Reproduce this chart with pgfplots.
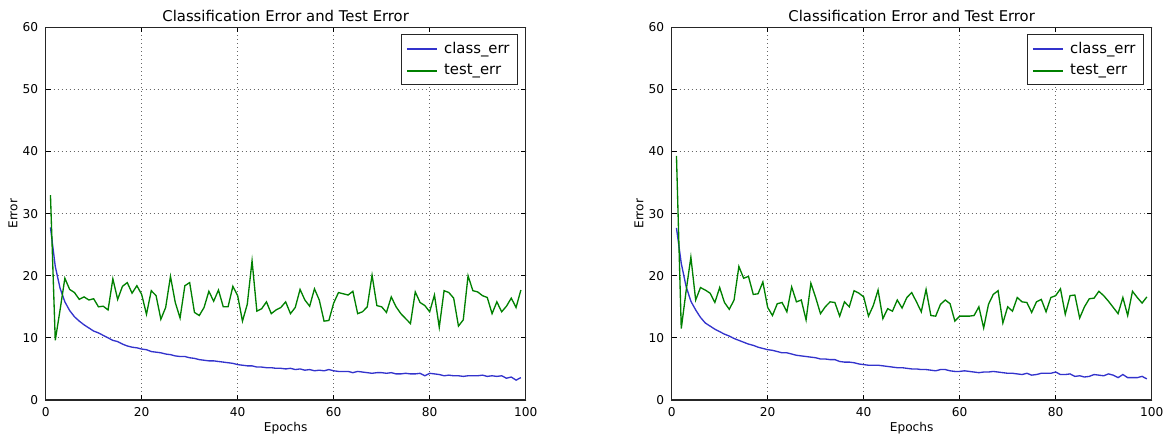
\documentclass[border=0pt]{standalone}
\usepackage{pgfplots}
\pgfplotsset{compat=1.18}
\usepackage{pgfplotstable}
\usepackage{fontspec}
\setmainfont{DejaVu Sans}
\definecolor{mblue}{rgb}{0.2,0.2,0.8}
\definecolor{mgreen}{rgb}{0.0,0.5,0.0}

\pgfplotstableread{
e c t
1 27.8 33.0
2 21.5 9.6
3 18.0 14.5
4 15.8 19.6
5 14.4 17.8
6 13.4 17.3
7 12.7 16.2
8 12.1 16.6
9 11.6 16.1
10 11.1 16.3
11 10.8 15.0
12 10.4 15.1
13 10.0 14.5
14 9.6 19.5
15 9.4 16.2
16 9.0 18.3
17 8.7 18.9
18 8.5 17.2
19 8.4 18.4
20 8.2 17.0
21 8.1 13.8
22 7.8 17.6
23 7.7 16.8
24 7.6 13.0
25 7.4 14.9
26 7.3 19.9
27 7.1 15.7
28 7.0 13.2
29 7.0 18.4
30 6.8 18.9
31 6.7 14.1
32 6.5 13.6
33 6.4 14.9
34 6.3 17.5
35 6.3 15.9
36 6.2 17.7
37 6.1 15.0
38 6.0 15.0
39 5.9 18.3
40 5.7 16.8
41 5.6 12.7
42 5.5 15.4
43 5.5 22.4
44 5.3 14.3
45 5.3 14.7
46 5.2 15.8
47 5.2 13.9
48 5.1 14.5
49 5.1 14.9
50 5.0 15.8
51 5.1 13.9
52 4.9 14.9
53 5.0 17.8
54 4.8 16.1
55 4.9 15.1
56 4.7 17.9
57 4.8 16.1
58 4.7 12.7
59 4.9 12.8
60 4.7 15.6
61 4.6 17.3
62 4.6 17.1
63 4.6 16.9
64 4.4 17.5
65 4.6 13.9
66 4.5 14.2
67 4.4 15.0
68 4.3 20.1
69 4.4 15.2
70 4.4 15.0
71 4.3 14.1
72 4.4 16.6
73 4.2 15.0
74 4.2 13.9
75 4.3 13.1
76 4.2 12.3
77 4.2 17.4
78 4.3 15.7
79 3.9 15.2
80 4.3 14.2
81 4.2 16.9
82 4.1 11.7
83 3.9 17.6
84 4.0 17.3
85 3.9 16.4
86 3.9 11.9
87 3.8 12.9
88 3.9 20.0
89 3.9 17.6
90 3.9 17.4
91 4.0 16.8
92 3.8 16.5
93 3.9 13.9
94 3.8 15.8
95 3.9 14.2
96 3.5 15.1
97 3.7 16.4
98 3.2 14.9
99 3.6 17.7
}\lefttab

\pgfplotstableread{
e c t
1 27.7 39.3
2 22.0 11.5
3 18.3 17.5
4 15.9 23.0
5 14.5 16.1
6 13.3 18.1
7 12.4 17.7
8 11.9 17.2
9 11.4 15.7
10 11.0 18.1
11 10.6 15.7
12 10.3 14.6
13 9.9 16.1
14 9.6 21.5
15 9.3 19.6
16 9.0 19.9
17 8.8 17.0
18 8.5 17.1
19 8.3 19.0
20 8.1 14.9
21 8.0 13.6
22 7.8 15.5
23 7.6 15.7
24 7.6 14.2
25 7.4 18.2
26 7.2 15.8
27 7.1 16.1
28 7.0 12.9
29 6.9 18.8
30 6.8 16.5
31 6.6 13.9
32 6.6 15.0
33 6.5 15.8
34 6.5 15.7
35 6.2 13.5
36 6.1 15.8
37 6.1 15.0
38 6.0 17.6
39 5.8 17.2
40 5.7 16.6
41 5.6 13.5
42 5.6 15.2
43 5.6 17.7
44 5.5 13.1
45 5.4 14.7
46 5.3 14.3
47 5.2 16.1
48 5.2 14.8
49 5.1 16.5
50 5.0 17.3
51 5.0 15.8
52 4.9 14.2
53 4.9 17.8
54 4.8 13.6
55 4.7 13.5
56 4.9 15.4
57 4.9 16.1
58 4.7 15.5
59 4.6 12.7
60 4.6 13.5
61 4.7 13.5
62 4.6 13.5
63 4.5 13.6
64 4.4 15.0
65 4.5 11.6
66 4.5 15.4
67 4.6 17.0
68 4.5 17.6
69 4.4 12.4
70 4.3 15.0
71 4.3 14.3
72 4.2 16.5
73 4.1 15.8
74 4.3 15.7
75 4.0 14.1
76 4.1 15.8
77 4.3 16.2
78 4.3 14.2
79 4.3 16.5
80 4.5 16.8
81 4.1 17.9
82 4.1 13.8
83 4.2 16.8
84 3.8 16.9
85 3.9 13.2
86 3.7 15.0
87 3.8 16.3
88 4.1 16.4
89 4.0 17.5
90 3.9 16.8
91 4.2 15.9
92 4.0 14.9
93 3.6 13.9
94 4.1 16.5
95 3.6 13.6
96 3.6 17.5
97 3.6 16.5
98 3.8 15.6
99 3.4 16.6
}\righttab

\pgfplotsset{
  myax/.style={
    scale only axis,
    width=288pt, height=223.6pt,
    xmin=0, xmax=100, ymin=0, ymax=60,
    xtick={0,20,...,100}, ytick={0,10,...,60},
    tick align=inside,
    major tick length=3pt,
    grid=major,
    major grid style={dotted, black!60, line width=0.5pt},
    axis line style={black!85, line width=0.7pt},
    tick style={black, line width=0.5pt},
    /pgf/number format/assume math mode=true,
    ticklabel style={font=\fontsize{7.3}{8.8}\selectfont},
    xticklabel style={yshift=-1.2pt},
    yticklabel style={xshift=-1pt},
    title={Classification Error and Test Error},
    title style={at={(0.5,1)}, anchor=base, yshift=-2.8pt, font=\fontsize{8.9}{10.7}\selectfont},
    xlabel={Epochs}, ylabel={Error},
    label style={font=\fontsize{7.3}{8.8}\selectfont},
    xlabel style={at={(axis description cs:0.5,0)}, anchor=base, yshift=-19.2pt},
    ylabel style={at={(axis description cs:-0.068,0.5)}, anchor=center},
    legend style={at={(0.9847,0.981)}, anchor=north east, draw=black!85, line width=0.6pt,
      font=\fontsize{8.9}{10.7}\selectfont, inner xsep=3pt, inner ysep=2.5pt,
      row sep=1pt, column sep=2pt},
    legend cell align=left,
  }
}

\begin{document}
\begin{tikzpicture}
\useasboundingbox (-27.4pt,-21.6pt) rectangle (671.6pt,240pt);
\begin{axis}[myax]
\addlegendimage{legend image code/.code={\draw[mblue, line width=0.9pt] (0pt,0.3pt) -- (18pt,0.3pt);}}
\addlegendentry{class\_err}
\addlegendimage{legend image code/.code={\draw[mgreen, line width=0.9pt] (0pt,0pt) -- (18pt,0pt);}}
\addlegendentry{test\_err}
\addplot[mblue, line width=0.8pt, forget plot] table[x=e, y=c] {\lefttab};
\addplot[mgreen, line width=0.8pt, forget plot] table[x=e, y=t] {\lefttab};
\end{axis}
\begin{axis}[myax, xshift=375.6pt]
\addlegendimage{legend image code/.code={\draw[mblue, line width=0.9pt] (0pt,0.3pt) -- (18pt,0.3pt);}}
\addlegendentry{class\_err}
\addlegendimage{legend image code/.code={\draw[mgreen, line width=0.9pt] (0pt,0pt) -- (18pt,0pt);}}
\addlegendentry{test\_err}
\addplot[mblue, line width=0.8pt, forget plot] table[x=e, y=c] {\righttab};
\addplot[mgreen, line width=0.8pt, forget plot] table[x=e, y=t] {\righttab};
\end{axis}
\end{tikzpicture}
\end{document}
